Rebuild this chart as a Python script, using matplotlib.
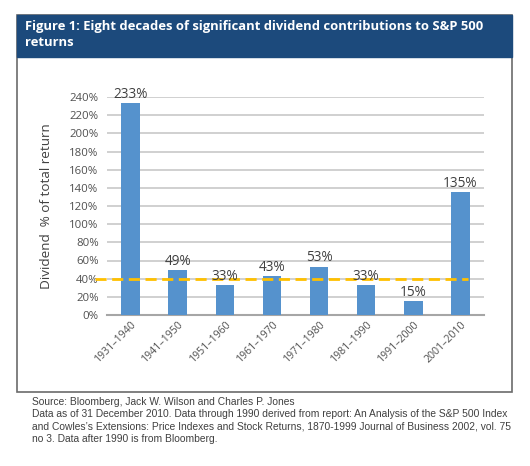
import numpy as np
import matplotlib.pyplot as plt
from matplotlib.patches import Rectangle

decades = ['1931–1940', '1941–1950', '1951–1960', '1961–1970',
           '1971–1980', '1981–1990', '1991–2000', '2001–2010']
dividend_pct = [233, 49, 33, 43, 53, 33, 15, 135]
average_pct = 40
yticks = list(range(0, 241, 20))

title = 'Figure 1: Eight decades of significant dividend contributions to S&P 500\nreturns'
footer = ('Source: Bloomberg, Jack W. Wilson and Charles P. Jones\n'
          'Data as of 31 December 2010. Data through 1990 derived from report: An Analysis of the S&P 500 Index\n'
          'and Cowles\u2019s Extensions: Price Indexes and Stock Returns, 1870-1999 Journal of Business 2002, vol. 75\n'
          'no 3. Data after 1990 is from Bloomberg.')

W, H = 530, 466
plt.rcParams['font.family'] = ['Open Sans', 'DejaVu Sans']

fig = plt.figure(figsize=(W / 100, H / 100), dpi=100)

# outer frame and header band (pixel coords -> figure fraction)
def fx(x):
    return x / W

def fy(y):
    return 1 - y / H

fig.patches.append(Rectangle((fx(17), fy(392)), fx(512) - fx(17), fy(15) - fy(392),
                             transform=fig.transFigure, fill=False,
                             edgecolor='#6b6b6b', linewidth=1.2))
fig.patches.append(Rectangle((fx(17), fy(57)), fx(512) - fx(17), fy(15) - fy(57),
                             transform=fig.transFigure, facecolor='#1c4a7c',
                             edgecolor='#1c4a7c'))
fig.text(fx(25), fy(20), title, color='white', fontweight='bold', fontsize=9.35,
         va='top', ha='left', linespacing=1.25)

ax = fig.add_axes([fx(107), fy(315), fx(484) - fx(107), fy(97) - fy(315)])
x = np.arange(len(decades))
bars = ax.bar(x, dividend_pct, width=0.39, color='#5592cd', zorder=3)
ax.set_xlim(-0.5, len(decades) - 0.5)
ax.set_ylim(0, 240)
ax.set_yticks(yticks)
ax.set_yticklabels([f'{t}%' for t in yticks], fontsize=8.2, color='#505050')
ax.yaxis.grid(True, color='#c8c8c8', linewidth=1.2, zorder=0)
ax.tick_params(axis='y', length=0, pad=6)
ax.tick_params(axis='x', length=0, pad=3)
ax.set_xticks(x)
ax.set_xticklabels(decades, rotation=45, ha='right', rotation_mode='anchor',
                   fontsize=7.6, color='#505050')
for s in ['top', 'right', 'left']:
    ax.spines[s].set_visible(False)
ax.spines['bottom'].set_color('#a6a6a6')
ax.spines['bottom'].set_linewidth(1.5)

for xi, v in zip(x, dividend_pct):
    ax.text(xi, v + 1.5, f'{v}%', ha='center', va='bottom', fontsize=9.8,
            color='#404040', zorder=5, clip_on=False)

ax.plot([-0.75, 7.15], [average_pct, average_pct], color='#ffc000', linewidth=2,
        dashes=(4, 2), zorder=4, clip_on=False)

ax.set_ylabel('Dividend  % of total return', fontsize=9.7, color='#404040', labelpad=12)

fig.text(fx(32), fy(397), footer, fontsize=7.4, color='#404040', va='top', ha='left',
         linespacing=1.3, family=['Liberation Sans Narrow', 'Liberation Sans'])

fig.savefig('out.png', dpi=100)
